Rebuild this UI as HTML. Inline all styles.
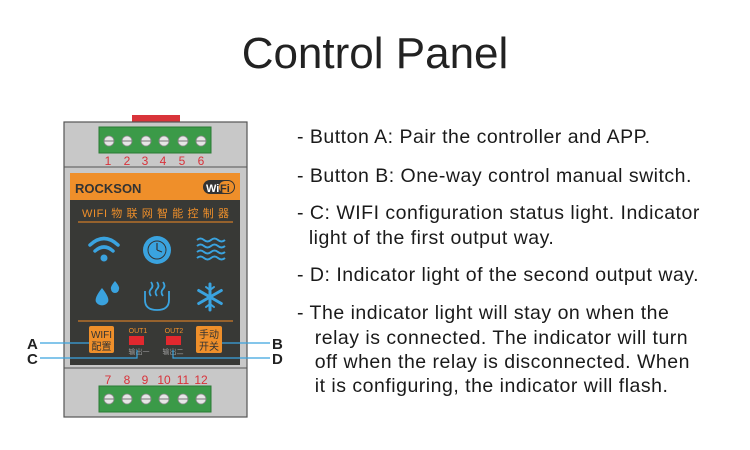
<!DOCTYPE html>
<html><head><meta charset="utf-8"><style>
body{margin:0;width:750px;height:450px;background:#fff;position:relative;overflow:hidden;font-family:"Liberation Sans","Noto Sans CJK SC",sans-serif}
.a{position:absolute}
.t{position:absolute;left:297px;font-size:19.5px;letter-spacing:0.5px;color:#1a1a1a;white-space:nowrap;line-height:22px}
</style></head><body>
<div class="a" style="left:0;top:32px;width:750px;text-align:center;font-size:44px;color:#222;line-height:1">Control Panel</div>

<svg class="a" style="left:0;top:0" width="300" height="450">
<rect x="132" y="115" width="48" height="8" fill="#d9343a"/>
<rect x="64" y="122" width="183" height="295" fill="#c8c8c8" stroke="#555" stroke-width="1.2"/>
<line x1="64" y1="167" x2="247" y2="167" stroke="#555"/>
<line x1="64" y1="368" x2="247" y2="368" stroke="#555"/>
<rect x="99" y="127" width="112" height="26" fill="#3b9a48" stroke="#2a7a35"/>
<rect x="99" y="386" width="112" height="26" fill="#3b9a48" stroke="#2a7a35"/>
<g fill="#e6e6e6" stroke="#888" stroke-width="0.8">
<circle cx="109" cy="141" r="5"/><circle cx="127" cy="141" r="5"/><circle cx="146" cy="141" r="5"/><circle cx="164" cy="141" r="5"/><circle cx="183" cy="141" r="5"/><circle cx="201" cy="141" r="5"/>
<circle cx="109" cy="399" r="5"/><circle cx="127" cy="399" r="5"/><circle cx="146" cy="399" r="5"/><circle cx="164" cy="399" r="5"/><circle cx="183" cy="399" r="5"/><circle cx="201" cy="399" r="5"/>
</g>
<g stroke="#777" stroke-width="1"><line x1="104" y1="141" x2="114" y2="141"/><line x1="122" y1="141" x2="132" y2="141"/><line x1="141" y1="141" x2="151" y2="141"/><line x1="159" y1="141" x2="169" y2="141"/><line x1="178" y1="141" x2="188" y2="141"/><line x1="196" y1="141" x2="206" y2="141"/>
<line x1="104" y1="399" x2="114" y2="399"/><line x1="122" y1="399" x2="132" y2="399"/><line x1="141" y1="399" x2="151" y2="399"/><line x1="159" y1="399" x2="169" y2="399"/><line x1="178" y1="399" x2="188" y2="399"/><line x1="196" y1="399" x2="206" y2="399"/></g>
<g fill="#d8323a" font-size="12" text-anchor="middle" font-family="Liberation Sans">
<text x="108" y="165">1</text><text x="127" y="165">2</text><text x="145" y="165">3</text><text x="163" y="165">4</text><text x="182" y="165">5</text><text x="201" y="165">6</text>
<text x="108" y="384">7</text><text x="127" y="384">8</text><text x="145" y="384">9</text><text x="164" y="384">10</text><text x="183" y="384">11</text><text x="201" y="384">12</text></g>
<rect x="70" y="173" width="170" height="192" fill="#383936"/>
<rect x="70" y="173" width="170" height="27" fill="#ef8f2a"/>
<text x="75" y="193" font-size="13" font-weight="bold" fill="#333" font-family="Liberation Sans">ROCKSON</text>
<rect x="203" y="180" width="32" height="14" rx="7" fill="#333"/>
<rect x="219" y="181" width="15" height="12" rx="6" fill="#ef8f2a"/>
<text x="206" y="192" font-size="11" font-weight="bold" fill="#fff">Wi</text><text x="220" y="192" font-size="11" font-weight="bold" fill="#333">Fi</text>
<text x="82" y="217" font-size="11" fill="#ef8f2a" letter-spacing="0.6" font-family="Liberation Sans,Noto Sans CJK SC,sans-serif">WIFI 物 联 网 智 能 控 制 器</text>
<line x1="78" y1="222" x2="233" y2="222" stroke="#b5702a" stroke-width="1.5"/>
<line x1="78" y1="321" x2="233" y2="321" stroke="#b5702a" stroke-width="1.5"/>
<g fill="none" stroke="#3aa3df" stroke-width="3.5" stroke-linecap="round">
<path d="M90 245 Q104 232 118 245"/><path d="M95 251 Q104 243 113 251"/></g>
<circle cx="104" cy="258" r="3.5" fill="#3aa3df"/>
<circle cx="157" cy="250" r="14" fill="#3aa3df"/><circle cx="157" cy="250" r="9" fill="none" stroke="#333" stroke-width="1"/>
<path d="M157 250 L157 243 M157 250 L162 252" stroke="#333" stroke-width="1.2"/>
<g fill="none" stroke="#3aa3df" stroke-width="2"><path d="M197 240 q3.5 -3 7 0 t7 0 t7 0 t7 0"/><path d="M197 246 q3.5 -3 7 0 t7 0 t7 0 t7 0"/><path d="M197 252 q3.5 -3 7 0 t7 0 t7 0 t7 0"/><path d="M197 258 q3.5 -3 7 0 t7 0 t7 0 t7 0"/></g>
<path d="M102 288 Q94 298 96 302 A7 7 0 0 0 108 302 Q110 298 102 288Z" fill="#3aa3df"/>
<path d="M115 281 Q110 287 111 289 A4 4 0 0 0 119 289 Q120 287 115 281Z" fill="#3aa3df"/>
<g fill="none" stroke="#3aa3df" stroke-width="1.8"><path d="M145 291 V300 Q145 310 157 310 Q169 310 169 300 V291"/><path d="M151 296 q-3 -4 0 -7 t0 -7"/><path d="M157 296 q-3 -4 0 -7 t0 -7"/><path d="M163 296 q-3 -4 0 -7 t0 -7"/></g>
<g stroke="#3aa3df" stroke-width="3" stroke-linecap="round"><line x1="210" y1="284" x2="210" y2="310"/><line x1="198.7" y1="290.5" x2="221.3" y2="303.5"/><line x1="198.7" y1="303.5" x2="221.3" y2="290.5"/></g>
<g stroke="#3aa3df" stroke-width="2" fill="none" stroke-linecap="round"><path d="M206 287 L210 290 L214 287"/><path d="M206 307 L210 304 L214 307"/></g>
<rect x="89" y="326" width="25" height="27" rx="2" fill="#ef8f2a"/>
<text x="101.5" y="338" font-size="10" text-anchor="middle" fill="#333">WIFI</text><text x="101.5" y="350" font-size="10" text-anchor="middle" fill="#333">配置</text>
<rect x="196" y="326" width="26" height="27" rx="2" fill="#ef8f2a"/>
<text x="209" y="338" font-size="10" text-anchor="middle" fill="#333">手动</text><text x="209" y="350" font-size="10" text-anchor="middle" fill="#333">开关</text>
<text x="138" y="333" font-size="7" text-anchor="middle" fill="#ef8f2a">OUT1</text><text x="174" y="333" font-size="7" text-anchor="middle" fill="#ef8f2a">OUT2</text>
<rect x="129" y="336" width="15" height="9" fill="#e2282e"/><rect x="166" y="336" width="15" height="9" fill="#e2282e"/>
<text x="139" y="354" font-size="7" text-anchor="middle" fill="#999">输出一</text><text x="173" y="354" font-size="7" text-anchor="middle" fill="#999">输出二</text>
<g fill="none" stroke="#3aa3df" stroke-width="1.2"><path d="M40 343 H89"/><path d="M40 358 H137 V350"/><path d="M222 343 H270"/><path d="M270 358 H173 V350"/></g>
<g font-size="15" font-weight="bold" fill="#222"><text x="27" y="349">A</text><text x="27" y="364">C</text><text x="272" y="349">B</text><text x="272" y="364">D</text></g>
</svg>

<div class="t" style="top:126px">- Button A: Pair the controller and APP.</div>
<div class="t" style="top:165px">- Button B: One-way control manual switch.</div>
<div class="t" style="top:202px">- C: WIFI configuration status light. Indicator</div>
<div class="t" style="top:227px">&nbsp;&nbsp;light of the first output way.</div>
<div class="t" style="top:264px">- D: Indicator light of the second output way.</div>
<div class="t" style="top:302px">- The indicator light will stay on when the</div>
<div class="t" style="top:327px">&nbsp;&nbsp;&nbsp;relay is connected. The indicator will turn</div>
<div class="t" style="top:351px">&nbsp;&nbsp;&nbsp;off when the relay is disconnected. When</div>
<div class="t" style="top:375px">&nbsp;&nbsp;&nbsp;it is configuring, the indicator will flash.</div>
</body></html>
